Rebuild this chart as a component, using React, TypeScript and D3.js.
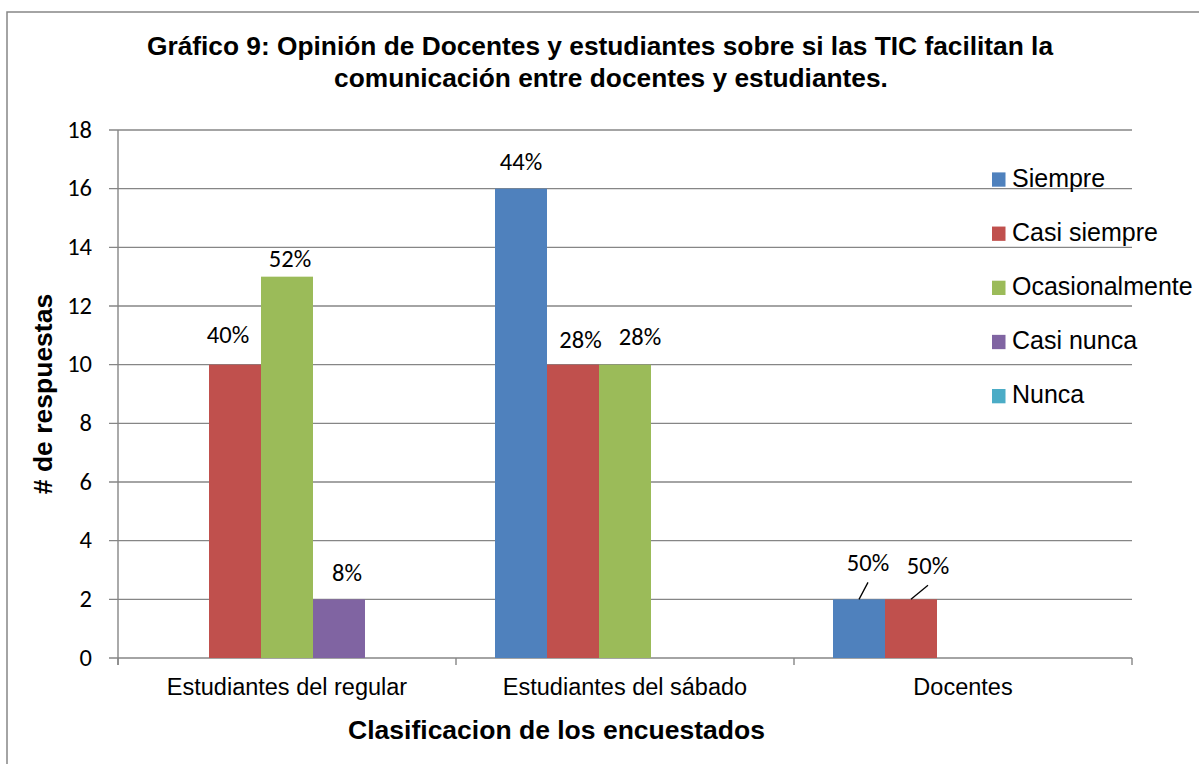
import React from "react";
import * as d3 from "d3";

const categories = ["Estudiantes del regular", "Estudiantes del sábado", "Docentes"];
const seriesNames = ["Siempre", "Casi siempre", "Ocasionalmente", "Casi nunca", "Nunca"];
const siempre = [0, 16, 2];
const casiSiempre = [10, 10, 2];
const ocasionalmente = [13, 10, 0];
const casiNunca = [2, 0, 0];
const nunca = [0, 0, 0];
const yTicks = [0, 2, 4, 6, 8, 10, 12, 14, 16, 18];
const titleLines = [
  "Gráfico 9: Opinión de Docentes y estudiantes sobre si las TIC facilitan la",
  "comunicación entre docentes y estudiantes.",
];
const xTitle = "Clasificacion de los encuestados";
const yTitle = "# de respuestas";

const seriesValues = [siempre, casiSiempre, ocasionalmente, casiNunca, nunca];
const colors = ["#4F81BD", "#C0504D", "#9BBB59", "#8064A2", "#4BACC6"];

// label nudges (style): key = `${seriesIndex}-${categoryIndex}` -> [dx, dy, leader]
const labelNudge: Record<string, [number, number, boolean]> = {
  "1-0": [-7, -2.5, false],
  "2-0": [3, 9.6, false],
  "3-0": [8, 0.5, false],
  "0-1": [0, 0, false],
  "1-1": [7.5, 2.6, false],
  "2-1": [15, -0.7, false],
  "0-2": [9, -9, true],
  "1-2": [17, -6, true],
};

const W = 1199;
const H = 764;
const plot = { left: 118, right: 1132, top: 130, bottom: 658 };
const numFont = "Carlito, Calibri, Lato, sans-serif";
const sansFont = "'Liberation Sans', Arial, sans-serif";
const gridColor = "#868686";

export default function App() {
  const y = d3.scaleLinear().domain([0, 18]).range([plot.bottom, plot.top]);
  const x0 = d3.scaleBand<string>().domain(categories).range([plot.left, plot.right]).padding(0);
  const x1 = d3
    .scaleBand<string>()
    .domain(seriesNames)
    .range([0, x0.bandwidth()])
    .paddingInner(0)
    .paddingOuter(0.75);

  const totals = categories.map((_, ci) => d3.sum(seriesValues, (s) => s[ci]));

  const bars: JSX.Element[] = [];
  const labels: JSX.Element[] = [];
  seriesValues.forEach((vals, si) => {
    vals.forEach((v, ci) => {
      if (v <= 0) return;
      const bx = (x0(categories[ci]) as number) + (x1(seriesNames[si]) as number);
      const bw = x1.bandwidth();
      bars.push(
        <rect key={`b${si}-${ci}`} x={bx} y={y(v)} width={bw} height={y(0) - y(v)} fill={colors[si]} />
      );
      const pct = Math.round((v / totals[ci]) * 100) + "%";
      const nudge = labelNudge[`${si}-${ci}`] || [0, 0, false];
      const cx = bx + bw / 2;
      const lx = cx + nudge[0];
      const ly = y(v) - 19 + nudge[1];
      labels.push(
        <g key={`l${si}-${ci}`}>
          {nudge[2] && (
            <line x1={cx} y1={y(v)} x2={lx} y2={ly + 11} stroke="#000" strokeWidth={1.3} />
          )}
          <text x={lx} y={ly} textAnchor="middle" fontFamily={numFont} fontSize={24.5} fill="#000">
            {pct}
          </text>
        </g>
      );
    });
  });

  const catTicks = [plot.left, ...categories.map((c) => (x0(c) as number) + x0.bandwidth())];

  return (
    <svg
      width={W}
      height={H}
      viewBox={`0 0 ${W} ${H}`}
      style={{ position: "absolute", left: 0, top: 0, background: "#fff" }}
    >
      <rect x={0} y={0} width={W} height={H} fill="#fff" />
      <rect x={7} y={12} width={W + 20} height={H + 20} fill="none" stroke={gridColor} strokeWidth={1.5} />
      {/* title */}
      <text x={600} y={55} textAnchor="middle" fontFamily={sansFont} fontWeight="bold" fontSize={26.3}>
        {titleLines[0]}
      </text>
      <text x={611} y={87} textAnchor="middle" fontFamily={sansFont} fontWeight="bold" fontSize={26.3}>
        {titleLines[1]}
      </text>
      {/* gridlines + y ticks */}
      {yTicks.map((t) => (
        <g key={`g${t}`}>
          <line x1={plot.left - 9} x2={plot.right} y1={y(t)} y2={y(t)} stroke={gridColor} strokeWidth={1.4} />
          <text
            x={92}
            y={y(t) + 7.8}
            textAnchor="end"
            fontFamily={numFont}
            fontSize={24.5}
            fill="#000"
          >
            {t}
          </text>
        </g>
      ))}
      {/* y axis line */}
      <line x1={plot.left} x2={plot.left} y1={plot.top} y2={plot.bottom + 7} stroke={gridColor} strokeWidth={1.4} />
      {catTicks.map((tx, i) => (
        <line key={`ct${i}`} x1={tx} x2={tx} y1={plot.bottom} y2={plot.bottom + 7} stroke={gridColor} strokeWidth={1.4} />
      ))}
      {bars}
      {labels}
      {/* category labels */}
      {categories.map((c) => (
        <text
          key={c}
          x={(x0(c) as number) + x0.bandwidth() / 2}
          y={695}
          textAnchor="middle"
          fontFamily={sansFont}
          fontSize={23.5}
          fill="#000"
        >
          {c}
        </text>
      ))}
      {/* axis titles */}
      <text x={556.5} y={739} textAnchor="middle" fontFamily={sansFont} fontWeight="bold" fontSize={26.5}>
        {xTitle}
      </text>
      <text
        transform={`translate(52, ${(plot.top + plot.bottom) / 2}) rotate(-90)`}
        textAnchor="middle"
        fontFamily={sansFont}
        fontWeight="bold"
        fontSize={26.5}
      >
        {yTitle}
      </text>
      {/* legend */}
      {seriesNames.map((s, i) => {
        const base = 186.7 + i * 54.15;
        return (
          <g key={s}>
            <rect x={992} y={base - 14.3} width={13.5} height={14.3} fill={colors[i]} />
            <text x={1012} y={base} fontFamily={sansFont} fontSize={25} fill="#000">
              {s}
            </text>
          </g>
        );
      })}
    </svg>
  );
}
